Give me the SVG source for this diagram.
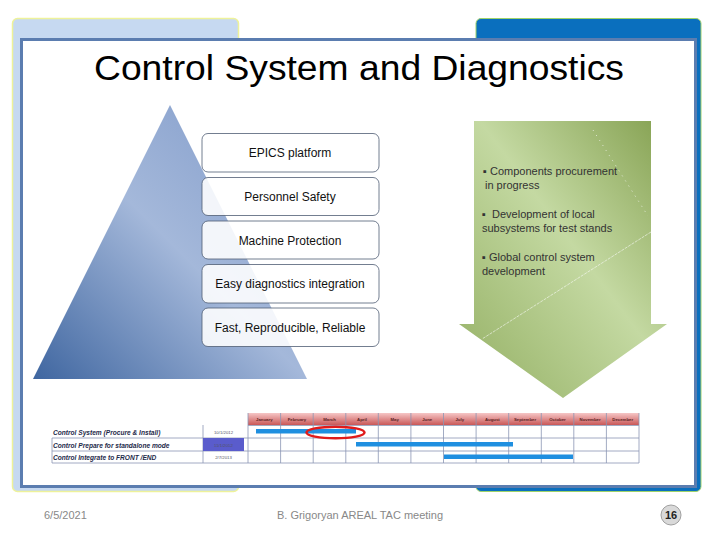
<svg xmlns="http://www.w3.org/2000/svg" width="720" height="540" viewBox="0 0 720 540">
<defs>
<linearGradient id="pyr" x1="0" y1="1" x2="1" y2="0">
<stop offset="0" stop-color="#3f66a0"/>
<stop offset="0.5" stop-color="#a4b8da"/>
<stop offset="1" stop-color="#7d98c8"/>
</linearGradient>
<linearGradient id="arw" x1="1" y1="0" x2="0" y2="1">
<stop offset="0" stop-color="#84a050"/>
<stop offset="0.45" stop-color="#c4d9a2"/>
<stop offset="0.75" stop-color="#a9c27f"/>
<stop offset="1" stop-color="#93ae63"/>
</linearGradient>
<linearGradient id="hdr" x1="0" y1="0" x2="0" y2="1">
<stop offset="0" stop-color="#f6c6c6"/>
<stop offset="1" stop-color="#c95858"/>
</linearGradient>
</defs>
<style>
.box{fill:#ffffff;fill-opacity:0.88;stroke:#4f5d73;stroke-width:0.8}
.bt{font-family:"Liberation Sans",Arial,sans-serif;font-size:12px;fill:#111;text-anchor:middle}
.at{font-family:"Liberation Sans",Arial,sans-serif;font-size:11px;fill:#333}
.ft{font-family:"Liberation Sans",Arial,sans-serif;font-size:11px;fill:#888}
.mt{font-family:"Liberation Sans",Arial,sans-serif;font-size:4.3px;fill:#5a1f1f;font-weight:bold;text-anchor:middle}
.rl{font-family:"Liberation Sans",Arial,sans-serif;font-size:6.6px;fill:#1e2a4a;font-weight:bold;font-style:italic}
.dt{font-family:"Liberation Sans",Arial,sans-serif;font-size:4.3px;fill:#556;text-anchor:middle}
.gl{stroke:#8a96b4;stroke-width:0.8;fill:none}
.bar{fill:#1f8fe0}
</style>
<rect width="720" height="540" fill="#ffffff"/>
<g id="frame">
<rect x="12.5" y="18.5" width="226" height="473" rx="5" fill="#c6d9f1" stroke="#eef29a" stroke-width="1.5"/>
<rect x="476" y="18.5" width="225" height="473" rx="5" fill="#0a6fbe" stroke="#9fd36a" stroke-width="1"/>
<rect x="21.5" y="39.5" width="674" height="447" fill="#ffffff" stroke="#5b7db0" stroke-width="3"/>
</g>
<g id="title">
<text x="359" y="80" font-family="'Comic Sans MS','Liberation Sans',sans-serif" font-size="35" fill="#000" text-anchor="middle" textLength="530" lengthAdjust="spacingAndGlyphs">Control System and Diagnostics</text>
</g>
<g id="pyramid">
<polygon points="170,105 33,379 307,379" fill="url(#pyr)"/>
</g>
<g id="box-epics">
<rect class="box" x="202" y="133.5" width="177" height="38.5" rx="6"/>
<text class="bt" x="290" y="157">EPICS platform</text>
</g>
<g id="box-personnel">
<rect class="box" x="202" y="177.5" width="177" height="38" rx="6"/>
<text class="bt" x="290" y="200.5">Personnel Safety</text>
</g>
<g id="box-machine">
<rect class="box" x="202" y="221" width="177" height="38" rx="6"/>
<text class="bt" x="290" y="244.5">Machine Protection</text>
</g>
<g id="box-easy">
<rect class="box" x="202" y="264.5" width="177" height="38.5" rx="6"/>
<text class="bt" x="290" y="288">Easy diagnostics integration</text>
</g>
<g id="box-fast">
<rect class="box" x="202" y="308" width="177" height="38.5" rx="6"/>
<text class="bt" x="290" y="331.5">Fast, Reproducible, Reliable</text>
</g>
<g id="arrow">
<polygon points="474,121 651,121 651,324 667,324 563,398 459,324 474,324" fill="url(#arw)"/>
<line x1="593" y1="130" x2="648" y2="216" stroke="#ffffff" stroke-width="0.8" stroke-dasharray="1 5" opacity="0.9"/>
<line x1="651" y1="232" x2="482" y2="339" stroke="#ffffff" stroke-width="0.7" stroke-dasharray="3 1" opacity="0.8"/>
<text class="at" x="483" y="175">▪ Components procurement</text>
<text class="at" x="485" y="189">in progress</text>
<text class="at" x="482" y="217.5">▪&#160; Development of local</text>
<text class="at" x="482" y="231.5">subsystems for test stands</text>
<text class="at" x="482" y="260.5">▪ Global control system</text>
<text class="at" x="482" y="275">development</text>
</g>
<g id="gantt">
<rect x="248" y="413" width="391" height="12" fill="url(#hdr)"/>
<g class="gl">
<line x1="280.6" y1="413" x2="280.6" y2="463"/>
<line x1="313.2" y1="413" x2="313.2" y2="463"/>
<line x1="345.8" y1="413" x2="345.8" y2="463"/>
<line x1="378.3" y1="413" x2="378.3" y2="463"/>
<line x1="410.9" y1="413" x2="410.9" y2="463"/>
<line x1="443.5" y1="413" x2="443.5" y2="463"/>
<line x1="476.1" y1="413" x2="476.1" y2="463"/>
<line x1="508.7" y1="413" x2="508.7" y2="463"/>
<line x1="541.3" y1="413" x2="541.3" y2="463"/>
<line x1="573.8" y1="413" x2="573.8" y2="463"/>
<line x1="606.4" y1="413" x2="606.4" y2="463"/>
<line x1="639" y1="413" x2="639" y2="463"/>
<line x1="248" y1="413" x2="248" y2="463"/>
<line x1="203" y1="425" x2="203" y2="463"/>
<line x1="52" y1="438" x2="52" y2="463"/>
<line x1="248" y1="425.5" x2="639" y2="425.5"/>
<line x1="52" y1="438" x2="639" y2="438"/>
<line x1="52" y1="451" x2="639" y2="451"/>
<line x1="52" y1="463" x2="639" y2="463"/>
</g>
<text class="mt" x="264.3" y="420.5">January</text>
<text class="mt" x="296.9" y="420.5">February</text>
<text class="mt" x="329.5" y="420.5">March</text>
<text class="mt" x="362" y="420.5">April</text>
<text class="mt" x="394.6" y="420.5">May</text>
<text class="mt" x="427.2" y="420.5">June</text>
<text class="mt" x="459.8" y="420.5">July</text>
<text class="mt" x="492.4" y="420.5">August</text>
<text class="mt" x="525" y="420.5">September</text>
<text class="mt" x="557.5" y="420.5">October</text>
<text class="mt" x="590.1" y="420.5">November</text>
<text class="mt" x="622.7" y="420.5">December</text>
<rect x="203" y="438" width="41" height="13" fill="#5a5ccc"/>
<text class="rl" x="53" y="434.5">Control System (Procure &amp; Install)</text>
<text class="rl" x="53" y="447.5">Control Prepare for standalone mode</text>
<text class="rl" x="53" y="460">Control Integrate to FRONT /END</text>
<text class="dt" x="223.5" y="433.5">10/1/2012</text>
<text class="dt" x="223.5" y="446.5" fill="#dde">11/1/2012</text>
<text class="dt" x="223.5" y="459">2/7/2013</text>
<rect class="bar" x="256" y="429" width="100" height="4.5"/>
<rect class="bar" x="356" y="442" width="157" height="4.5"/>
<rect class="bar" x="444" y="454.5" width="129" height="4.5"/>
<ellipse cx="335.5" cy="432.5" rx="29" ry="5.8" fill="none" stroke="#e01b1b" stroke-width="2.5"/>
</g>
<g id="connectors"/>
<g id="footer">
<text class="ft" x="44" y="519">6/5/2021</text>
<text class="ft" x="360" y="519" text-anchor="middle">B. Grigoryan  AREAL TAC meeting</text>
<circle cx="671" cy="515" r="10" fill="#d9d9d9" stroke="#a0a0a0" stroke-width="1"/>
<text x="671" y="519" font-family="'Liberation Sans',Arial,sans-serif" font-size="11" font-weight="bold" fill="#222" text-anchor="middle">16</text>
</g>
</svg>
